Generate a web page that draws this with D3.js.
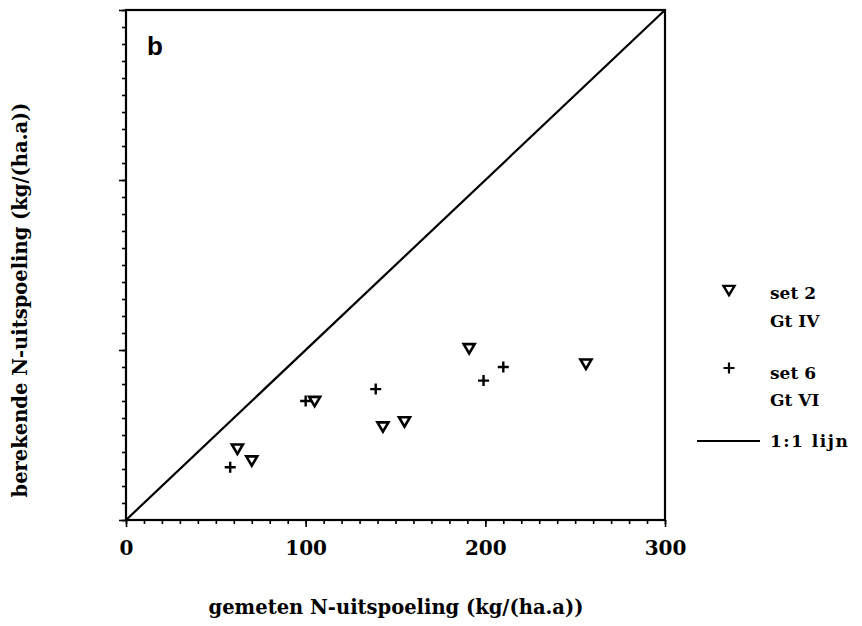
<!DOCTYPE html>
<html>
<head>
<meta charset="utf-8">
<script src="https://cdn.jsdelivr.net/npm/d3@7"></script>
<style>
  body { margin: 0; background: #fff; }
  text { font-family: "DejaVu Serif", "Liberation Serif", serif; font-weight: bold; fill: #000; }
</style>
</head>
<body>
<div id="chart"></div>
<script>
// set 2, Gt IV (triangles)
var set2X = [62, 70, 105, 143, 155, 191, 256];
var set2Y = [42, 35, 70, 55, 58, 101, 92];
// set 6, Gt VI (plus)
var set6X = [58, 100, 139, 199, 210];
var set6Y = [31, 70, 77, 82, 90];

var xTickLabels = [0, 100, 200, 300];
var legendItems = ["set 2", "Gt IV", "set 6", "Gt VI", "1:1 lijn"];

var margin = { left: 126, top: 10, right: 862 - 665, bottom: 626 - 520 };
var width = 862, height = 626;
var w = width - margin.left - margin.right;
var h = height - margin.top - margin.bottom;

var svg = d3.select("#chart").append("svg")
            .attr("width", width)
            .attr("height", height);

var g = svg.append("g")
           .attr("transform", "translate(" + margin.left + "," + margin.top + ")");

var x = d3.scaleLinear().domain([0, 300]).range([0, w]);
var y = d3.scaleLinear().domain([0, 300]).range([h, 0]);

var minor = d3.range(0, 301, 10);

// x axis: minor ticks, then major with labels
g.append("g")
 .attr("transform", "translate(0," + h + ")")
 .call(d3.axisBottom(x).tickValues(minor).tickSize(4).tickFormat(""));
var xMajor = g.append("g")
              .attr("transform", "translate(0," + h + ")")
              .call(d3.axisBottom(x).tickValues(xTickLabels).tickSize(7).tickPadding(14).tickFormat(d3.format("d")));
xMajor.selectAll("text").style("font-size", "20px");

g.append("g")
 .call(d3.axisLeft(y).tickValues(minor).tickSize(4).tickFormat(""));
g.append("g")
 .call(d3.axisLeft(y).tickValues([0, 100, 200, 300]).tickSize(7).tickFormat(""));

g.selectAll(".domain").remove();
g.selectAll(".tick line").attr("stroke", "#000").attr("stroke-width", 1.6);

// frame
g.append("rect")
 .attr("x", 0).attr("y", 0)
 .attr("width", w).attr("height", h)
 .attr("fill", "none")
 .attr("stroke", "#000")
 .attr("stroke-width", 2.2);

// 1:1 line
g.append("line")
 .attr("x1", x(0)).attr("y1", y(0))
 .attr("x2", x(300)).attr("y2", y(300))
 .attr("stroke", "#000")
 .attr("stroke-width", 2.2);

function triPath(s) {
  return "M" + (-s) + "," + (-s * 0.75) + "L" + s + "," + (-s * 0.75) + "L0," + (s * 0.95) + "Z";
}
function plusPath(s) {
  return "M" + (-s) + ",0L" + s + ",0M0," + (-s) + "L0," + s;
}

var set2 = set2X.map(function (d, i) { return { x: d, y: set2Y[i] }; });
var set6 = set6X.map(function (d, i) { return { x: d, y: set6Y[i] }; });

g.selectAll(".tri")
 .data(set2)
 .enter()
 .append("path")
 .attr("class", "tri")
 .attr("d", triPath(5.5))
 .attr("transform", function (d) { return "translate(" + x(d.x) + "," + y(d.y) + ")"; })
 .attr("fill", "none")
 .attr("stroke", "#000")
 .attr("stroke-width", 2.6);

g.selectAll(".plus")
 .data(set6)
 .enter()
 .append("path")
 .attr("class", "plus")
 .attr("d", plusPath(5.5))
 .attr("transform", function (d) { return "translate(" + x(d.x) + "," + y(d.y) + ")"; })
 .attr("fill", "none")
 .attr("stroke", "#000")
 .attr("stroke-width", 2.4);

// panel letter
g.append("text")
 .attr("x", 21).attr("y", 45)
 .style("font-family", "Liberation Sans, Arial, sans-serif")
 .style("font-size", "26px")
 .text("b");

// axis titles
svg.append("text")
   .attr("x", 396)
   .attr("y", 614)
   .attr("text-anchor", "middle")
   .style("font-size", "19.5px")
   .text("gemeten N-uitspoeling (kg/(ha.a))");

svg.append("text")
   .attr("transform", "translate(27,300) rotate(-90)")
   .attr("text-anchor", "middle")
   .style("font-size", "19.5px")
   .text("berekende N-uitspoeling (kg/(ha.a))");

// legend
var legend = svg.append("g");
legend.append("path")
      .attr("d", triPath(5.5))
      .attr("transform", "translate(729,290)")
      .attr("fill", "none").attr("stroke", "#000").attr("stroke-width", 2.4);
legend.append("path")
      .attr("d", plusPath(5.5))
      .attr("transform", "translate(729,368)")
      .attr("fill", "none").attr("stroke", "#000").attr("stroke-width", 2.2);
legend.append("line")
      .attr("x1", 697).attr("x2", 760).attr("y1", 441).attr("y2", 441)
      .attr("stroke", "#000").attr("stroke-width", 2);

var legendY = [299, 327, 379, 406, 447];
legend.selectAll("text")
      .data(legendItems)
      .enter()
      .append("text")
      .attr("x", 770)
      .attr("y", function (d, i) { return legendY[i]; })
      .style("font-size", "17px")
      .style("letter-spacing", function (d, i) { return i === 4 ? "1.5px" : null; })
      .text(function (d) { return d; });
</script>
</body>
</html>
